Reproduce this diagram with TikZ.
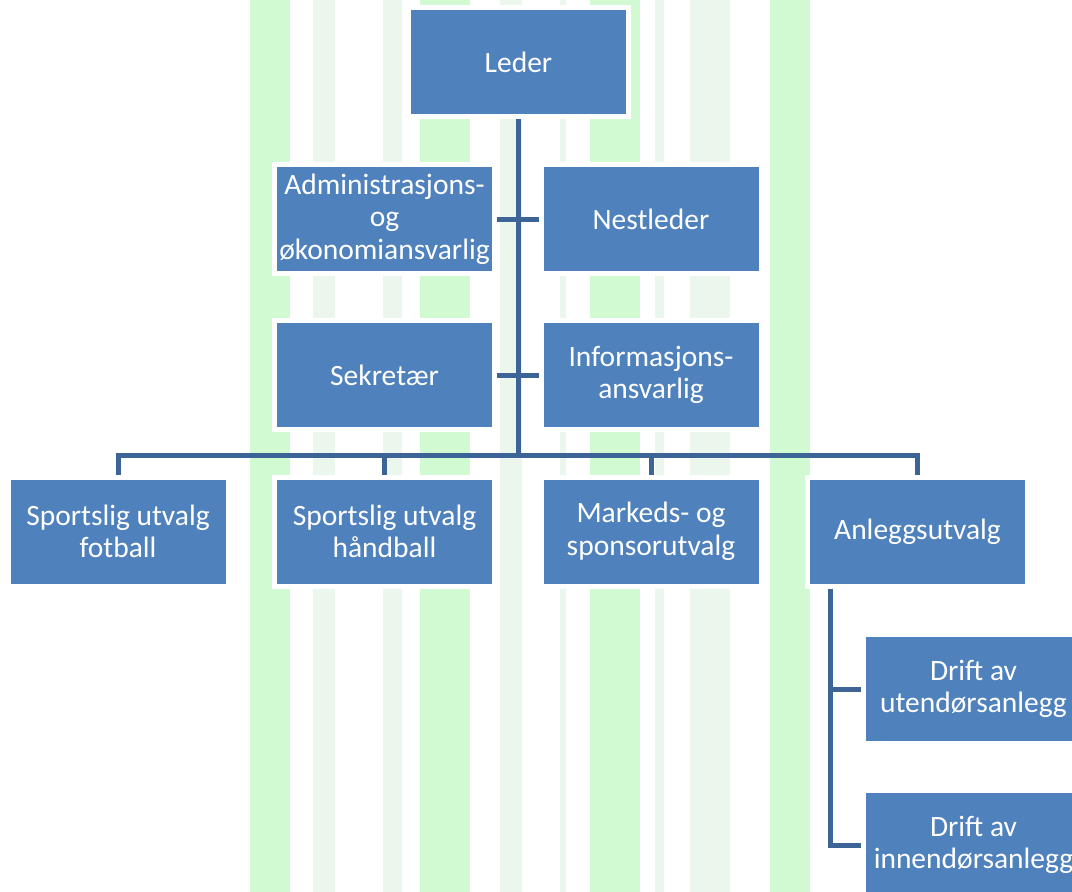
\documentclass[tikz,border=0pt]{standalone}
\usepackage{fontspec}
\setmainfont{Carlito}
\usetikzlibrary{calc}
\definecolor{boxblue}{HTML}{4F81BD}
\definecolor{linkblue}{HTML}{3C6496}
\definecolor{stripe}{HTML}{D2FAD2}
\definecolor{faint}{HTML}{EBF7EC}
\tikzset{
	post/.style={rectangle,fill=boxblue,draw=white,line width=5pt,minimum width=220pt,minimum height=109pt,inner sep=2pt,text=white,align=center,font=\fontsize{29.5}{32.5}\selectfont},
	link/.style={draw=linkblue,line width=5pt}
}
\begin{document}
\begin{tikzpicture}[x=1pt,y=-1pt]
\useasboundingbox (0,0) rectangle (1072,892);
\clip (0,0) rectangle (1072,892);
\fill[white] (0,0) rectangle (1072,892);
\foreach \a/\b in {313/335,383/402,500/522,690/730,560/566,655/664} {
	\fill[faint] (\a,0) rectangle (\b,892);
}
\foreach \a/\b in {250/290,420/470,590/640,770/810} {
	\fill[stripe] (\a,0) rectangle (\b,892);
}
\node[post] (leder) at (518.5,62) {Leder};
\node[post] (admin) at (384.5,219) {Administrasjons-\\og\\økonomiansvarlig};
\node[post] (nest) at (651,219) {Nestleder};
\node[post] (sekr) at (384.5,375) {Sekretær};
\node[post] (info) at (651,375) {Informasjons-\\ansvarlig};
\foreach \n/\x/\t in {fotball/118/{Sportslig utvalg\\fotball},handball/384.5/{Sportslig utvalg\\håndball},markeds/651/{Markeds- og\\sponsorutvalg},anlegg/917.5/{Anleggsutvalg}} {
	\node[post] (\n) at (\x,531.5) {\t};
}
\node[post] (ute) at (973.5,689) {Drift av\\utendørsanlegg};
\node[post] (inne) at (973.5,845) {Drift av\\innendørsanlegg};
\coordinate (bus) at (leder.south |- 0,455);
\coordinate (ankr) at ([xshift=25pt]anlegg.south west);
\draw[link] (leder) -- (bus);
\draw[link] (admin) -- (nest);
\draw[link] (sekr) -- (info);
\draw[link] (fotball.north) |- (bus) -| (anlegg.north);
\foreach \n in {handball,markeds} {
	\draw[link] (\n.north) -- (\n.north |- bus);
}
\draw[link] (ankr) |- (ute.west);
\draw[link] (ankr) |- (inne.west);
\end{tikzpicture}
\end{document}
